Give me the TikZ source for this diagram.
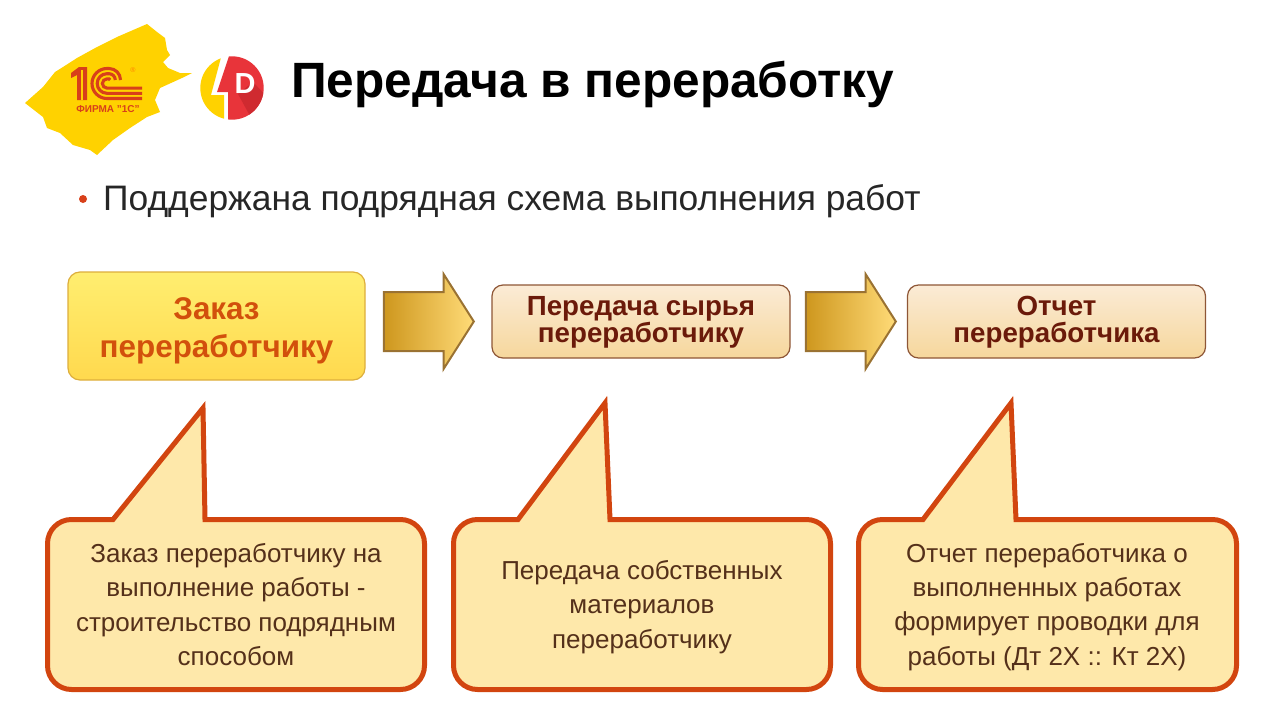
\documentclass[tikz,border=0pt]{standalone}
\usepackage{fontspec}
\setmainfont{Liberation Sans}
\usepackage{tikz}
\usetikzlibrary{shapes.arrows}
\definecolor{brandred}{HTML}{D8401A}
\definecolor{brandyellow}{HTML}{FFD200}
\definecolor{boltred}{HTML}{E8343A}
\definecolor{boltshade}{HTML}{CF2A30}
\definecolor{calloutline}{HTML}{D2450F}
\definecolor{calloutfill}{HTML}{FEE8AA}
\definecolor{callouttext}{HTML}{54301A}
\definecolor{yellowtop}{HTML}{FFEE70}
\definecolor{yellowbot}{HTML}{FFD94E}
\definecolor{yellowline}{HTML}{DDAE3C}
\definecolor{orangetext}{HTML}{D2500C}
\definecolor{creamtop}{HTML}{FBEBD6}
\definecolor{creambot}{HTML}{F6D79C}
\definecolor{stageline}{HTML}{8E5636}
\definecolor{maroontext}{HTML}{6B1A0A}
\definecolor{arrowline}{HTML}{9A7232}
\definecolor{arrowdark}{HTML}{CE971E}
\definecolor{arrowlight}{HTML}{FFDB78}
\tikzset{
  stagefirst/.style={draw=yellowline, line width=1.2, rounded corners=12, top color=yellowtop, bottom color=yellowbot,
    minimum width=297, minimum height=108, align=center, text=orangetext, font=\fontsize{31.4}{38}\selectfont\bfseries, inner sep=0},
  stagenext/.style={draw=stageline, line width=1.2, rounded corners=11, top color=creamtop, bottom color=creambot,
    minimum width=298, minimum height=73, align=center, text=maroontext, font=\fontsize{27.7}{27}\selectfont\bfseries, inner sep=0},
  blockarrow/.style={single arrow, draw=arrowline, line width=2, left color=arrowdark, right color=arrowlight, anchor=tip,
    minimum height=90, inner xsep=0, inner ysep=28.5, single arrow head extend=18, single arrow tip angle=115},
  callouttxt/.style={align=center, text=callouttext, font=\fontsize{26}{34.3}\selectfont, inner sep=0},
}
\begin{document}
\begin{tikzpicture}[x=1pt,y=-1pt]
  \useasboundingbox (0,0) rectangle (1280,720);

  % Title and bullet line
  \node[anchor=base west, font=\fontsize{49.6}{48}\selectfont\bfseries, inner sep=0] (title) at (291,97) {Передача в переработку};
  \node[anchor=base west, font=\fontsize{35.4}{32}\selectfont, text=black!85, inner sep=0] (bullet) at (103,210) {Поддержана подрядная схема выполнения работ};
  \fill[brandred] (83,199) circle (4);

  % Brush logo
  \fill[brandyellow] (25,103) -- (43,87) -- (55,72) -- (63,67) -- (77,58) -- (97,47) -- (117,37) -- (147,24) -- (157,32) -- (165,38) -- (167,50)
    -- (170,55) -- (163,62) -- (168,68) -- (180,73) -- (192,73) -- (182,78) -- (160,88) -- (155,100) -- (160,112) -- (147,117) -- (130,128)
    -- (113,140) -- (97,155) -- (90,150) -- (73,145) -- (60,133) -- (47,128) -- (43,117) -- cycle;
  % 1C mark
  \fill[brandred] (71,73) -- (79,67) -- (87,67) -- (87,100) -- (77,100) -- (77,75) -- (71,78) -- cycle;
  \draw[brandyellow, line width=1.2] (82,70) -- (82,100);
  \foreach \r in {15,9.8,4.6} {
    \pgfmathsetmacro{\rtop}{\r-3.5}
    \draw[brandred, line width=3.1] ({109+\rtop},80) arc (0:-90:\rtop) -- (107,{83.5-\r}) arc (-90:-270:\r) -- (142,{83.5+\r});
  }
  \node[font=\fontsize{10}{10}\selectfont\bfseries, text=brandred, inner sep=0] (firm) at (108,109) {ФИРМА "1С"};
  \node[font=\fontsize{7}{7}\selectfont, text=orange, inner sep=0] (reg) at (133,70) {®};

  % Lightning logo
  \begin{scope}
    \clip (223,50) -- (211,95) -- (224,95) -- (224,125) -- (195,125) -- (195,50) -- cycle;
    \fill[brandyellow] (232,88) circle (31.7);
  \end{scope}
  \begin{scope}
    \clip (232,88) circle (31.7);
    \clip (231,50) -- (217,92) -- (228,92) -- (228,125) -- (270,125) -- (270,50) -- cycle;
    \fill[boltred] (195,50) rectangle (270,125);
    \fill[boltshade] (238,94) -- (253,82) -- (270,100) -- (255,125) -- cycle;
  \end{scope}
  \node[font=\fontsize{29}{29}\selectfont\bfseries, text=white, inner sep=0] (dmark) at (245,84) {D};

  % Stages along the top
  \node[stagefirst] (zakaz) at (216.5,326) {\rule{0pt}{31pt}Заказ\\переработчику};
  \node[stagenext] (peredacha) at (641,321.5) {\rule{0pt}{20pt}Передача сырья\\переработчику};
  \node[stagenext] (otchet) at (1056.5,321.5) {\rule{0pt}{20pt}Отчет\\переработчика};
  \node[blockarrow] (arrowa) at (475,321.5) {};
  \node[blockarrow] (arrowb) at (897,321.5) {};

  % Callouts below the stages
  \foreach \xl/\xr/\tl/\tr/\ax/\ay in {47.5/424.5/113/205/203/408, 453.5/830.5/518/610/605/403, 858.5/1236.5/923/1016/1011/403} {
    \draw[draw=calloutline, fill=calloutfill, line width=5, miter limit=10] (\tr,519.5) [rounded corners=24] -- (\xr,519.5) -- (\xr,689.5)
      -- (\xl,689.5) -- (\xl,519.5) [sharp corners] -- (\tl,519.5) -- (\ax,\ay) -- cycle;
  }
  \node[callouttxt] (notea) at (236,604.5) {Заказ переработчику на\\выполнение работы -\\строительство подрядным\\способом};
  \node[callouttxt] (noteb) at (642,607) {Передача собственных\\материалов\\переработчику};
  \node[callouttxt] (notec) at (1047,607) {Отчет переработчика о\\выполненных работах\\формирует проводки для\\работы (Дт 2Х :: Кт 2Х)};
\end{tikzpicture}
\end{document}
